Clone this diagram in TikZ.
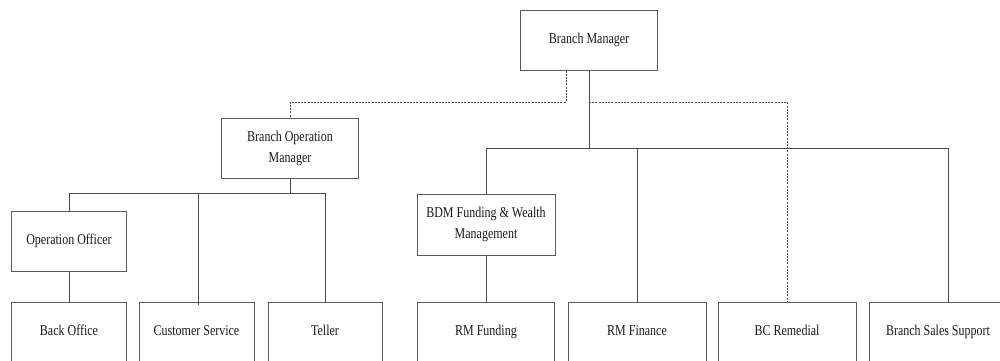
\documentclass[tikz,border=0pt]{standalone}
\usepackage{fontspec}
\setmainfont{Liberation Serif}[FakeStretch=0.8]
\begin{document}
\begin{tikzpicture}[x=1pt,y=-1pt,
  box/.style={draw=black!65, line width=1pt, fill=white, inner sep=0pt, text=black!90,
    font=\fontsize{15}{21}\selectfont, align=center},
  conn/.style={draw=black!70, line width=1pt},
  dconn/.style={draw=black!70, line width=1pt, dash pattern=on 2pt off 1.2pt},
  bottombox/.style={box, minimum height=60pt, text height=10.5pt, text depth=3.5pt}
]
\useasboundingbox (0,0) rectangle (1000,360);
\clip (0,0) rectangle (1000,360);
\fill[white] (0,0) rectangle (1000,360);

% nodes
\node[box, minimum width=137pt, minimum height=60pt] (bm) at (589,40) {Branch Manager};
\node[box, minimum width=137pt, minimum height=60pt] (bom) at (290,148) {Branch Operation\\Manager};
\node[box, minimum width=115pt, minimum height=60pt] (oo) at (69,241) {Operation Officer};
\node[box, minimum width=138pt, minimum height=61pt] (bdm) at (486,224.5) {BDM Funding \& Wealth\\Management};

\node[bottombox, minimum width=115pt] (bo) at (69,332) {Back Office};
\node[bottombox, minimum width=115pt] (cs) at (196.5,332) {Customer Service};
\node[bottombox, minimum width=114pt] (te) at (325,332) {Teller};
\node[bottombox, minimum width=137pt] (rmfu) at (486,332) {RM Funding};
\node[bottombox, minimum width=138pt] (rmfi) at (637,332) {RM Finance};
\node[bottombox, minimum width=138pt] (bcr) at (787,332) {BC Remedial};
\node[bottombox, minimum width=138pt] (bss) at (938,332) {Branch Sales Support};

% helper coordinates
\coordinate (bus) at (589,148);
\coordinate (obus) at (290,193);
\coordinate (dashx) at (566,102);
\coordinate (dotl) at (589,102);
\coordinate (bssx) at (948,302);
\coordinate (csx) at (198,302);

% Branch Manager solid tree
\draw[conn] (bm.south) -- (bus);
\draw[conn] (bdm.north) -- (bdm.north |- bus) -- (bus -| bssx) -- (bssx);
\draw[conn] (rmfi.north) -- (rmfi.north |- bus);
\draw[conn] (bdm.south) -- (rmfu.north);

% dashed links
\draw[dconn] (bm.south -| dashx) -- (dashx) -- (dashx -| bom.north) -- (bom.north);
\draw[dconn] (dotl) -- (dotl -| bcr.north) -- (bcr.north);

% Branch Operation Manager tree
\draw[conn] (bom.south) -- (obus);
\draw[conn] (oo.north) -- (oo.north |- obus) -- (obus -| te.north) -- (te.north);
\draw[conn] (csx |- obus) -- ([yshift=-3pt]csx);
\draw[conn] (oo.south) -- (bo.north);
\end{tikzpicture}
\end{document}
